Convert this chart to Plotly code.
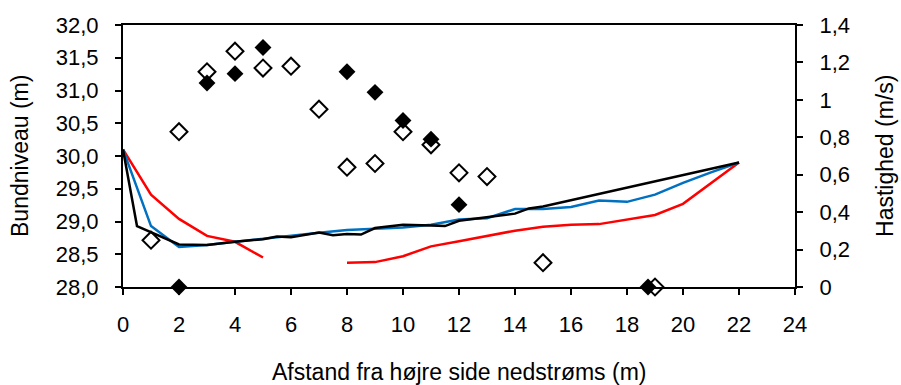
import plotly.graph_objects as go

# Bed level profiles (left axis, m)
x_int = list(range(0, 23))
bund_blaa = [30.10, 28.93, 28.61, 28.64, 28.69, 28.74, 28.79, 28.83, 28.87, 28.89,
             28.91, 28.95, 29.03, 29.05, 29.19, 29.19, 29.22, 29.32, 29.30, 29.41,
             29.59, 29.75, 29.90]
bund_roed = [30.10, 29.41, 29.04, 28.78, 28.69, 28.45, None, None, 28.37, 28.38,
             28.47, 28.62, 28.70, 28.78, 28.86, 28.92, 28.95, 28.96, 29.03, 29.10,
             29.27, 29.59, 29.90]
x_sort = [0, 0.5, 2, 3, 4, 5, 5.5, 6, 7, 7.5, 8, 8.5, 9, 10, 11, 11.5, 12, 13,
          14, 14.5, 15, 22]
bund_sort = [30.10, 28.93, 28.65, 28.64, 28.69, 28.73, 28.77, 28.76, 28.83, 28.79,
             28.81, 28.80, 28.90, 28.95, 28.94, 28.93, 29.01, 29.07, 29.12, 29.20,
             29.23, 29.90]

# Velocities (right axis, m/s)
x_aaben = [1, 2, 3, 4, 5, 6, 7, 8, 9, 10, 11, 12, 13, 15, 19]
hast_aaben = [0.25, 0.83, 1.15, 1.26, 1.17, 1.18, 0.95, 0.64, 0.66, 0.83, 0.76,
              0.61, 0.59, 0.13, 0.0]
x_fyldt = [2, 3, 4, 5, 8, 9, 10, 11, 12, 18.75]
hast_fyldt = [0.0, 1.09, 1.14, 1.28, 1.15, 1.04, 0.89, 0.79, 0.44, 0.0]

FONT = "Liberation Sans, Arial, sans-serif"
FS = 22
FS_TITLE = 23

fig = go.Figure()
fig.add_trace(go.Scatter(x=x_int, y=bund_roed, mode="lines",
                         line=dict(color="#ff0000", width=2.5), connectgaps=False))
fig.add_trace(go.Scatter(x=x_int, y=bund_blaa, mode="lines",
                         line=dict(color="#0070c0", width=2.5)))
fig.add_trace(go.Scatter(x=x_sort, y=bund_sort, mode="lines",
                         line=dict(color="#000000", width=2.5)))
fig.add_trace(go.Scatter(x=x_aaben, y=hast_aaben, mode="markers", yaxis="y2",
                         cliponaxis=False,
                         marker=dict(symbol="diamond-open", size=13, color="#000000",
                                     line=dict(width=2, color="#000000"))))
fig.add_trace(go.Scatter(x=x_fyldt, y=hast_fyldt, mode="markers", yaxis="y2",
                         cliponaxis=False,
                         marker=dict(symbol="diamond", size=13, color="#000000",
                                     line=dict(width=0))))

axis_common = dict(showgrid=False, zeroline=False, showline=True, linecolor="#000000",
                   linewidth=2, ticks="outside", ticklen=6, tickwidth=2,
                   tickcolor="#000000", tickfont=dict(family=FONT, size=FS, color="#000000"))

fig.update_layout(
    width=901, height=385,
    margin=dict(l=123, r=106, t=25, b=98),
    paper_bgcolor="white", plot_bgcolor="white",
    showlegend=False,
    separators=", ",
    font=dict(family=FONT, size=FS, color="#000000"),
    xaxis=dict(range=[0, 24], dtick=2, tick0=0, mirror=True,
               ticklabelstandoff=11, **axis_common),
    yaxis=dict(range=[28, 32], dtick=0.5, tick0=28, tickformat=".1f",
               ticklabelstandoff=12, **axis_common),
    yaxis2=dict(range=[0, 1.4], dtick=0.2, tick0=0, overlaying="y", side="right",
                ticklabelstandoff=12, **axis_common),
    annotations=[
        dict(text="Afstand fra højre side nedstrøms (m)", xref="paper", yref="paper",
             x=0.5, y=-0.3244, xanchor="center", yanchor="middle", showarrow=False,
             font=dict(family=FONT, size=FS_TITLE, color="#000000")),
        dict(text="Bundniveau (m)", xref="paper", yref="paper",
             x=-0.1533, y=0.5, xanchor="center", yanchor="middle", textangle=-90,
             showarrow=False, font=dict(family=FONT, size=FS_TITLE, color="#000000")),
        dict(text="Hastighed (m/s)", xref="paper", yref="paper",
             x=1.1339, y=0.5, xanchor="center", yanchor="middle", textangle=-90,
             showarrow=False, font=dict(family=FONT, size=FS_TITLE, color="#000000")),
    ],
)

fig.write_html("out.html")
